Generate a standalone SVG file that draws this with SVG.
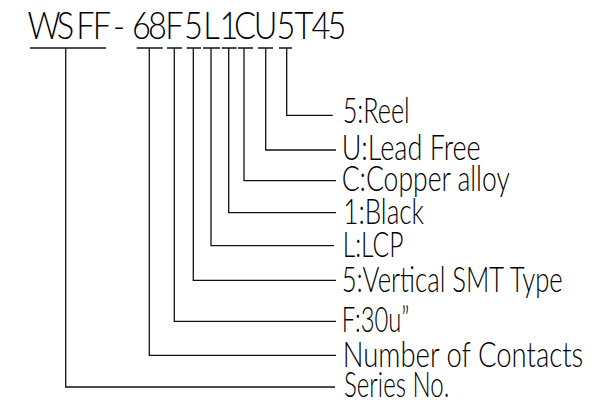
<svg xmlns="http://www.w3.org/2000/svg" width="604" height="405" viewBox="0 0 604 405">
<style>
  .t { font-family: Lato, "Liberation Sans", sans-serif; font-weight: 300; fill: #000; }
  .title { font-size: 37px; text-anchor: middle; }
  .lbl { font-size: 35px; }
  .ln { fill: none; stroke: #111; stroke-width: 1.3; }
</style>
<rect width="604" height="405" fill="#fff"/>
<g id="title">
  <text class="t title" transform="scale(0.88,1)" y="39.5" x="50.0 74.43 97.16 115.91 135.23 160.80 178.98 198.30 219.89 240.34 260.23 278.41 301.70 325.0 345.45 364.77 382.95">WSFF-68F5L1CU5T45</text>
</g>
<g id="connectors" class="ln">
  <path d="M30 48H106 M65.7 48V387H335"/>
  <path d="M136.7 48H162.7 M149.3 48V355.3H336"/>
  <path d="M167 48H182 M174.3 48V321.3H336"/>
  <path d="M186.7 48H201 M193.3 48V280.3H336"/>
  <path d="M203 48H220 M211 48V245.7H334"/>
  <path d="M221.7 48H236.7 M228.7 48V212.7H336"/>
  <path d="M238 48H253 M244 48V180.7H336"/>
  <path d="M258 48H273 M265.7 48V150H336"/>
  <path d="M279 48H292 M286.7 48V115.3H332.7"/>
</g>
<g transform="scale(0.82,1)">
<g id="n-reel"><text class="t lbl" x="417.93" y="122.7" textLength="81.71" lengthAdjust="spacingAndGlyphs">5:Reel</text></g>
<g id="n-leadfree"><text class="t lbl" x="416.71" y="160" textLength="169.51" lengthAdjust="spacingAndGlyphs">U:Lead Free</text></g>
<g id="n-copper"><text class="t lbl" x="416.71" y="190.7" textLength="204.88" lengthAdjust="spacingAndGlyphs">C:Copper alloy</text></g>
<g id="n-black"><text class="t lbl" x="418.66" y="224" textLength="98.41" lengthAdjust="spacingAndGlyphs">1:Black</text></g>
<g id="n-lcp"><text class="t lbl" x="417.93" y="257.3" textLength="74.02" lengthAdjust="spacingAndGlyphs">L:LCP</text></g>
<g id="n-vertical"><text class="t lbl" x="416.71" y="291.7" textLength="269.51" lengthAdjust="spacingAndGlyphs">5:Vertical SMT Type</text></g>
<g id="n-plating"><text class="t lbl" x="416.71" y="331.7" textLength="82.44" lengthAdjust="spacingAndGlyphs">F:30u”</text></g>
<g id="n-contacts"><text class="t lbl" x="417.93" y="366.7" textLength="293.41" lengthAdjust="spacingAndGlyphs">Number of Contacts</text></g>
<g id="n-series"><text class="t lbl" x="419.51" y="397.3" textLength="128.41" lengthAdjust="spacingAndGlyphs">Series No.</text></g>
</g>
</svg>
